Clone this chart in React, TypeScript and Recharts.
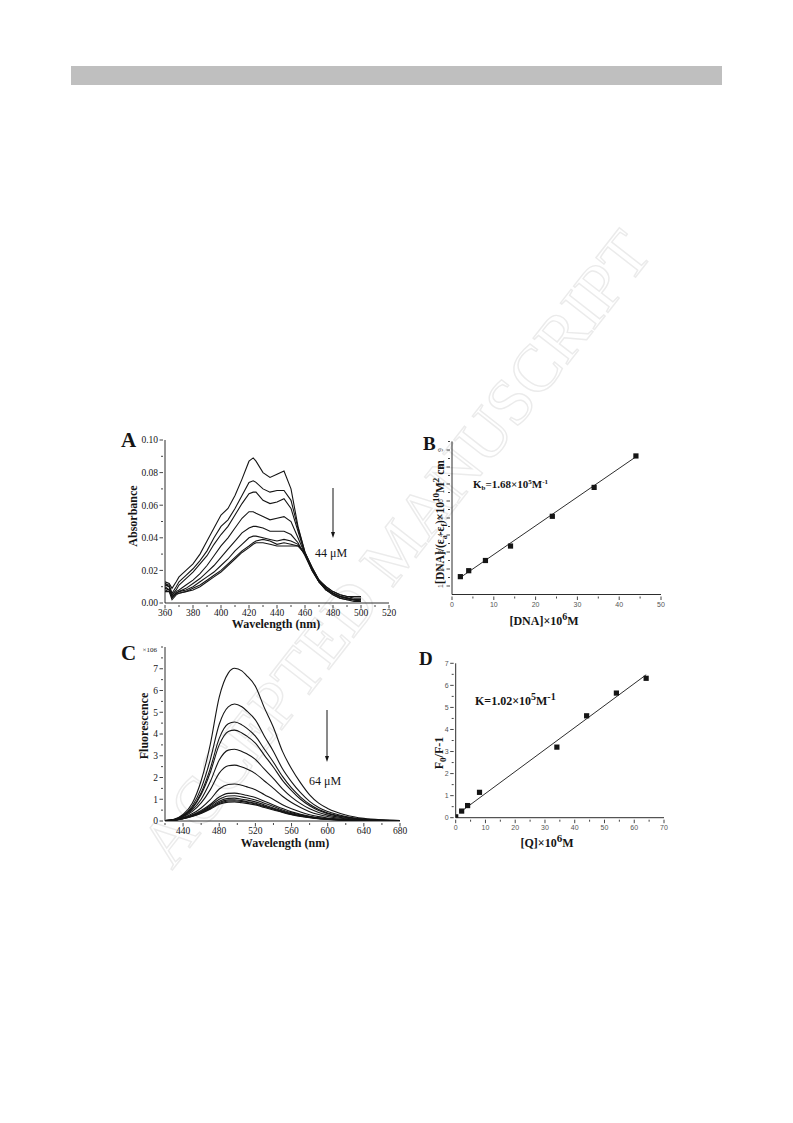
import React from 'react';
import { LineChart, Line, XAxis, YAxis, ScatterChart, Scatter } from 'recharts';

const SERIF = '"Liberation Serif", "Times New Roman", serif';
const SANS = '"Liberation Sans", Arial, sans-serif';
const INK = '#151515';

// A: absorption titration (Absorbance vs wavelength)
const absWavelength = [360, 363, 365, 368, 370, 375, 380, 385, 390, 395, 400, 405, 410, 415, 420, 423, 425, 430, 435, 440, 445, 450, 455, 460, 465, 470, 475, 480, 485, 490, 495, 500];
const absCurves = [
  [0.013, 0.012, 0.009, 0.013, 0.016, 0.02, 0.024, 0.03, 0.038, 0.046, 0.054, 0.058, 0.066, 0.076, 0.087, 0.089, 0.087, 0.08, 0.077, 0.079, 0.081, 0.07, 0.047, 0.031, 0.022, 0.014, 0.01, 0.007, 0.005, 0.004, 0.004, 0.004],
  [0.012, 0.011, 0.006, 0.01, 0.013, 0.017, 0.021, 0.026, 0.032, 0.04, 0.047, 0.051, 0.058, 0.066, 0.074, 0.075, 0.074, 0.07, 0.068, 0.069, 0.069, 0.063, 0.046, 0.031, 0.021, 0.014, 0.009, 0.006, 0.004, 0.003, 0.002, 0.002],
  [0.011, 0.01, 0.005, 0.008, 0.011, 0.015, 0.019, 0.024, 0.029, 0.036, 0.042, 0.047, 0.054, 0.061, 0.067, 0.068, 0.068, 0.063, 0.061, 0.062, 0.064, 0.058, 0.044, 0.03, 0.021, 0.013, 0.009, 0.006, 0.004, 0.003, 0.002, 0.002],
  [0.009, 0.008, 0.005, 0.007, 0.008, 0.011, 0.014, 0.018, 0.023, 0.029, 0.035, 0.04, 0.046, 0.052, 0.056, 0.056, 0.055, 0.053, 0.051, 0.052, 0.053, 0.05, 0.04, 0.03, 0.02, 0.013, 0.008, 0.006, 0.004, 0.003, 0.002, 0.002],
  [0.01, 0.008, 0.004, 0.006, 0.007, 0.009, 0.012, 0.015, 0.019, 0.023, 0.028, 0.033, 0.038, 0.043, 0.046, 0.047, 0.047, 0.046, 0.044, 0.044, 0.044, 0.042, 0.037, 0.029, 0.02, 0.013, 0.008, 0.005, 0.003, 0.002, 0.002, 0.001],
  [0.008, 0.007, 0.004, 0.006, 0.007, 0.008, 0.01, 0.013, 0.016, 0.019, 0.023, 0.027, 0.032, 0.036, 0.04, 0.041, 0.041, 0.04, 0.039, 0.038, 0.039, 0.038, 0.036, 0.03, 0.021, 0.013, 0.008, 0.005, 0.003, 0.002, 0.001, 0.001],
  [0.012, 0.01, 0.003, 0.006, 0.006, 0.007, 0.009, 0.011, 0.014, 0.017, 0.02, 0.024, 0.028, 0.032, 0.035, 0.037, 0.038, 0.039, 0.038, 0.036, 0.037, 0.036, 0.035, 0.03, 0.021, 0.014, 0.009, 0.006, 0.004, 0.003, 0.002, 0.001],
  [0.007, 0.007, 0.002, 0.005, 0.006, 0.007, 0.008, 0.01, 0.013, 0.016, 0.019, 0.023, 0.027, 0.031, 0.034, 0.036, 0.037, 0.037, 0.036, 0.035, 0.035, 0.035, 0.035, 0.031, 0.022, 0.014, 0.01, 0.007, 0.005, 0.004, 0.003, 0.003],
];
const absXTicks = [360, 370, 380, 390, 400, 410, 420, 430, 440, 450, 460, 470, 480, 490, 500, 510, 520];
const absXLabels = [360, 380, 400, 420, 440, 460, 480, 500, 520];
const absYTicks = [0, 0.01, 0.02, 0.03, 0.04, 0.05, 0.06, 0.07, 0.08, 0.09, 0.1];
const absYLabels = [0, 0.02, 0.04, 0.06, 0.08, 0.1];

// C: fluorescence quenching (x10^6 counts)
const fluWavelength = [420, 430, 440, 450, 460, 470, 480, 490, 497, 505, 510, 520, 530, 540, 550, 560, 570, 580, 590, 600, 620, 640, 660, 680];
const fluCurves = [
  [0.02, 0.08, 0.3, 0.8, 1.85, 3.5, 5.7, 6.8, 7.02, 6.9, 6.7, 6.2, 5.2, 4.3, 3.2, 2.4, 1.75, 1.2, 0.82, 0.58, 0.28, 0.12, 0.05, 0.02],
  [0.02, 0.07, 0.26, 0.68, 1.5, 2.8, 4.45, 5.25, 5.38, 5.25, 5.08, 4.65, 3.9, 3.2, 2.4, 1.8, 1.3, 0.9, 0.62, 0.44, 0.21, 0.09, 0.04, 0.02],
  [0.02, 0.06, 0.24, 0.6, 1.3, 2.4, 3.8, 4.47, 4.55, 4.42, 4.28, 3.9, 3.3, 2.7, 2.05, 1.52, 1.1, 0.77, 0.53, 0.37, 0.18, 0.08, 0.03, 0.01],
  [0.02, 0.06, 0.23, 0.57, 1.22, 2.22, 3.5, 4.12, 4.18, 4.05, 3.92, 3.58, 3.02, 2.47, 1.87, 1.4, 1.0, 0.7, 0.48, 0.34, 0.16, 0.07, 0.03, 0.01],
  [0.02, 0.05, 0.21, 0.5, 1.0, 1.8, 2.8, 3.26, 3.3, 3.2, 3.1, 2.83, 2.38, 1.95, 1.48, 1.1, 0.8, 0.56, 0.39, 0.27, 0.13, 0.06, 0.02, 0.01],
  [0.01, 0.05, 0.19, 0.43, 0.83, 1.43, 2.2, 2.54, 2.57, 2.48, 2.4, 2.18, 1.84, 1.5, 1.14, 0.85, 0.62, 0.43, 0.3, 0.21, 0.1, 0.05, 0.02, 0.01],
  [0.01, 0.04, 0.16, 0.33, 0.6, 0.98, 1.47, 1.68, 1.7, 1.64, 1.58, 1.44, 1.21, 0.99, 0.75, 0.56, 0.41, 0.29, 0.2, 0.14, 0.07, 0.03, 0.01, 0.01],
  [0.01, 0.04, 0.14, 0.28, 0.48, 0.76, 1.1, 1.27, 1.28, 1.23, 1.18, 1.08, 0.91, 0.74, 0.57, 0.42, 0.31, 0.22, 0.15, 0.11, 0.05, 0.02, 0.01, 0.01],
  [0.01, 0.03, 0.13, 0.26, 0.44, 0.7, 1.0, 1.15, 1.16, 1.11, 1.07, 0.97, 0.82, 0.67, 0.51, 0.38, 0.28, 0.2, 0.14, 0.1, 0.05, 0.02, 0.01, 0.01],
  [0.01, 0.03, 0.12, 0.24, 0.41, 0.64, 0.91, 1.04, 1.05, 1.0, 0.97, 0.88, 0.74, 0.6, 0.46, 0.34, 0.25, 0.18, 0.12, 0.09, 0.04, 0.02, 0.01, 0.0],
  [0.01, 0.03, 0.12, 0.23, 0.39, 0.6, 0.85, 0.97, 0.98, 0.94, 0.9, 0.82, 0.69, 0.56, 0.43, 0.32, 0.24, 0.17, 0.12, 0.08, 0.04, 0.02, 0.01, 0.0],
  [0.01, 0.03, 0.11, 0.22, 0.37, 0.57, 0.81, 0.92, 0.93, 0.89, 0.86, 0.78, 0.66, 0.54, 0.41, 0.3, 0.22, 0.16, 0.11, 0.08, 0.04, 0.02, 0.01, 0.0],
  [0.01, 0.03, 0.11, 0.21, 0.35, 0.54, 0.77, 0.87, 0.88, 0.84, 0.81, 0.74, 0.62, 0.51, 0.39, 0.29, 0.21, 0.15, 0.1, 0.07, 0.03, 0.01, 0.01, 0.0],
];
const fluXTicks = [420, 440, 460, 480, 500, 520, 540, 560, 580, 600, 620, 640, 660, 680];
const fluXLabels = [440, 480, 520, 560, 600, 640, 680];
const fluYTicks = [0, 0.5, 1, 1.5, 2, 2.5, 3, 3.5, 4, 4.5, 5, 5.5, 6, 6.5, 7, 7.5, 8];
const fluYLabels = [0, 1, 2, 3, 4, 5, 6, 7];

// B: binding plot
const dnaConc = [2, 4, 8, 14, 24, 34, 44];
const dnaRatio = [1.55, 1.9, 2.5, 3.35, 5.1, 6.8, 8.65];
const dnaFitX = [2, 44];
const dnaFitY = [1.5, 8.6];
const dnaXTicks = [0, 5, 10, 15, 20, 25, 30, 35, 40, 45, 50];
const dnaXLabels = [0, 10, 20, 30, 40, 50];
const dnaYTicks = [1, 1.5, 2, 2.5, 3, 3.5, 4, 4.5, 5, 5.5, 6, 6.5, 7, 7.5, 8, 8.5, 9, 9.5];
const dnaYLabels = [1, 2, 3, 4, 5, 6, 7, 8, 9];

// D: Stern-Volmer plot
const qConc = [0, 2, 4, 8, 34, 44, 54, 64];
const qRatio = [0.04, 0.3, 0.55, 1.15, 3.2, 4.62, 5.65, 6.32];
const qFitX = [1.5, 64];
const qFitY = [0.25, 6.48];
const qXTicks = [0, 5, 10, 15, 20, 25, 30, 35, 40, 45, 50, 55, 60, 65, 70];
const qXLabels = [0, 10, 20, 30, 40, 50, 60, 70];
const qYTicks = [0, 0.5, 1, 1.5, 2, 2.5, 3, 3.5, 4, 4.5, 5, 5.5, 6, 6.5, 7];
const qYLabels = [0, 1, 2, 3, 4, 5, 6, 7];

const absRows = absWavelength.map((wl, i) => {
  const row: any = { wl };
  absCurves.forEach((c, k) => (row['s' + k] = c[i]));
  return row;
});
const fluRows = fluWavelength.map((wl, i) => {
  const row: any = { wl };
  fluCurves.forEach((c, k) => (row['s' + k] = c[i]));
  return row;
});
const toPts = (xs: number[], ys: number[]) => xs.map((x, i) => ({ x, y: ys[i] }));

type TickOpts = {
  labels: number[];
  fmt?: (v: number) => string;
  font: string;
  size: number;
  fill: string;
  gap: number;
  rotate?: boolean;
};

const xTick = (o: TickOpts) => (p: any) => {
  const v = p.payload.value;
  const big = o.labels.includes(v);
  return (
    <g>
      <line x1={p.x} x2={p.x} y1={p.y} y2={p.y + (big ? 3.5 : 2)} stroke={INK} strokeWidth={0.8} />
      {big && (
        <text x={p.x} y={p.y + o.gap} textAnchor="middle" fontFamily={o.font} fontSize={o.size} fill={o.fill}>
          {o.fmt ? o.fmt(v) : v}
        </text>
      )}
    </g>
  );
};

const yTick = (o: TickOpts) => (p: any) => {
  const v = p.payload.value;
  const big = o.labels.includes(v);
  const tx = p.x - o.gap;
  return (
    <g>
      <line x1={p.x - (big ? 3.5 : 2)} x2={p.x} y1={p.y} y2={p.y} stroke={INK} strokeWidth={0.8} />
      {big &&
        (o.rotate ? (
          <text x={tx} y={p.y} transform={`rotate(-90 ${tx} ${p.y})`} textAnchor="middle" fontFamily={o.font} fontSize={o.size} fill={o.fill}>
            {o.fmt ? o.fmt(v) : v}
          </text>
        ) : (
          <text x={tx} y={p.y + o.size * 0.35} textAnchor="end" fontFamily={o.font} fontSize={o.size} fill={o.fill}>
            {o.fmt ? o.fmt(v) : v}
          </text>
        ))}
    </g>
  );
};

const square = (p: any) => <rect x={p.cx - 2.6} y={p.cy - 2.6} width={5.2} height={5.2} fill={INK} />;
const noDot = () => <g />;

const place = (left: number, top: number): React.CSSProperties => ({ position: 'absolute', left, top });

const Arrow = ({ x, y1, y2 }: { x: number; y1: number; y2: number }) => (
  <g>
    <line x1={x} x2={x} y1={y1} y2={y2 - 5} stroke={INK} strokeWidth={1} />
    <polygon points={`${x - 2},${y2 - 6} ${x + 2},${y2 - 6} ${x},${y2}`} fill={INK} />
  </g>
);

export default function App() {
  const axisLine = { stroke: INK, strokeWidth: 0.9 };
  return (
    <div style={{ position: 'absolute', left: 0, top: 0, width: 793, height: 1123, background: '#fff', overflow: 'hidden' }}>
      {/* watermark */}
      <svg width={793} height={1123} style={{ position: 'absolute', left: 0, top: 0 }}>
        <text
          x={413}
          y={562}
          transform="rotate(-52 413 562)"
          textAnchor="middle"
          fontFamily={SERIF}
          fontSize={66}
          fill="none"
          stroke="#ebebeb"
          strokeWidth={1.4}
        >
          ACCEPTED MANUSCRIPT
        </text>
      </svg>

      <div style={{ position: 'absolute', left: 71, top: 66, width: 651, height: 19, background: '#bfbfbf' }} />

      {/* A */}
      <div style={place(100, 420)}>
        <LineChart width={300} height={210} data={absRows} margin={{ top: 20, right: 11, bottom: 7, left: 0 }}>
          <XAxis
            type="number"
            dataKey="wl"
            domain={[360, 520]}
            ticks={absXTicks}
            interval={0}
            allowDataOverflow
            height={20}
            tickSize={0}
            tickLine={false}
            axisLine={axisLine}
            tick={xTick({ labels: absXLabels, font: SERIF, size: 9.5, fill: INK, gap: 10.5 })}
          />
          <YAxis
            type="number"
            domain={[0, 0.1]}
            ticks={absYTicks}
            interval={0}
            allowDataOverflow
            width={65}
            tickSize={0}
            tickLine={false}
            axisLine={axisLine}
            tick={yTick({ labels: absYLabels, font: SERIF, size: 9.5, fill: INK, gap: 5, fmt: (v) => v.toFixed(2) })}
          />
          {absCurves.map((_, k) => (
            <Line key={k} dataKey={'s' + k} type="linear" stroke={INK} strokeWidth={1.1} dot={false} isAnimationActive={false} />
          ))}
        </LineChart>
      </div>

      {/* B */}
      <div style={place(400, 425)}>
        <ScatterChart width={280} height={200} margin={{ top: 16.5, right: 19, bottom: 10.5, left: 0 }}>
          <XAxis
            type="number"
            dataKey="x"
            domain={[0, 50]}
            ticks={dnaXTicks}
            interval={0}
            allowDataOverflow
            height={20}
            tickSize={0}
            tickLine={false}
            axisLine={axisLine}
            tick={xTick({ labels: dnaXLabels, font: SANS, size: 7, fill: '#555', gap: 10.5 })}
          />
          <YAxis
            type="number"
            dataKey="y"
            domain={[0.5, 9.5]}
            ticks={dnaYTicks}
            interval={0}
            allowDataOverflow
            width={52}
            tickSize={0}
            tickLine={false}
            axisLine={axisLine}
            tick={yTick({ labels: dnaYLabels, font: SANS, size: 7, fill: '#555', gap: 7, rotate: true })}
          />
          <Scatter data={toPts(dnaFitX, dnaFitY)} line={{ stroke: INK, strokeWidth: 0.9 }} shape={noDot} isAnimationActive={false} />
          <Scatter data={toPts(dnaConc, dnaRatio)} shape={square} isAnimationActive={false} />
        </ScatterChart>
      </div>

      {/* C */}
      <div style={place(100, 635)}>
        <LineChart width={310} height={210} data={fluRows} margin={{ top: 12, right: 10, bottom: 4, left: 0 }}>
          <XAxis
            type="number"
            dataKey="wl"
            domain={[420, 680]}
            ticks={fluXTicks}
            interval={0}
            allowDataOverflow
            height={20}
            tickSize={0}
            tickLine={false}
            axisLine={axisLine}
            tick={xTick({ labels: fluXLabels, font: SERIF, size: 9.5, fill: INK, gap: 10.5 })}
          />
          <YAxis
            type="number"
            domain={[0, 8]}
            ticks={fluYTicks}
            interval={0}
            allowDataOverflow
            width={65}
            tickSize={0}
            tickLine={false}
            axisLine={axisLine}
            tick={yTick({ labels: fluYLabels, font: SERIF, size: 9.5, fill: INK, gap: 5 })}
          />
          {fluCurves.map((_, k) => (
            <Line key={k} dataKey={'s' + k} type="monotone" stroke={INK} strokeWidth={1.1} dot={false} isAnimationActive={false} />
          ))}
        </LineChart>
      </div>

      {/* D */}
      <div style={place(400, 645)}>
        <ScatterChart width={280} height={200} margin={{ top: 18.3, right: 16, bottom: 7.3, left: 0 }}>
          <XAxis
            type="number"
            dataKey="x"
            domain={[0, 70]}
            ticks={qXTicks}
            interval={0}
            allowDataOverflow
            height={20}
            tickSize={0}
            tickLine={false}
            axisLine={axisLine}
            tick={xTick({ labels: qXLabels, font: SANS, size: 7, fill: '#555', gap: 10 })}
          />
          <YAxis
            type="number"
            dataKey="y"
            domain={[0, 7]}
            ticks={qYTicks}
            interval={0}
            allowDataOverflow
            width={55.7}
            tickSize={0}
            tickLine={false}
            axisLine={axisLine}
            tick={yTick({ labels: qYLabels, font: SANS, size: 7, fill: '#555', gap: 5 })}
          />
          <Scatter data={toPts(qFitX, qFitY)} line={{ stroke: INK, strokeWidth: 0.9 }} shape={noDot} isAnimationActive={false} />
          <Scatter data={toPts(qConc, qRatio)} shape={square} isAnimationActive={false} />
        </ScatterChart>
      </div>

      {/* labels and annotations */}
      <svg width={793} height={1123} style={{ position: 'absolute', left: 0, top: 0, pointerEvents: 'none' }}>
        <g fontFamily={SERIF} fill={INK}>
          {/* A */}
          <text x={121} y={447} fontSize={21} fontWeight="bold">A</text>
          <text x={137} y={516} transform="rotate(-90 137 516)" textAnchor="middle" fontSize={12} fontWeight="bold">Absorbance</text>
          <text x={276} y={628} textAnchor="middle" fontSize={12} fontWeight="bold">Wavelength (nm)</text>
          <Arrow x={333} y1={488} y2={538} />
          <text x={315} y={557} fontSize={12}>44 μM</text>

          {/* B */}
          <text x={423} y={450} fontSize={19} fontWeight="bold">B</text>
          <text x={444} y={522} transform="rotate(-90 444 522)" textAnchor="middle" fontSize={11.5} fontWeight="bold">
            [DNA]/(ε<tspan fontSize={8} dy={3}>a</tspan>
            <tspan dy={-3}>-ε</tspan>
            <tspan fontSize={8} dy={3}>f</tspan>
            <tspan dy={-3}>)×10</tspan>
            <tspan fontSize={9} dy={-5}>10</tspan>
            <tspan dy={5}>M</tspan>
            <tspan fontSize={9} dy={-5}>2</tspan>
            <tspan dy={5}> cm</tspan>
          </text>
          <text x={544} y={625} textAnchor="middle" fontSize={12} fontWeight="bold">
            [DNA]×10<tspan fontSize={10} dy={-5}>6</tspan>
            <tspan dy={5}>M</tspan>
          </text>
          <text x={473} y={488} fontSize={11} fontWeight="bold">
            K<tspan fontSize={7} dy={2}>b</tspan>
            <tspan dy={-2}>=1.68×10</tspan>
            <tspan fontSize={7} dy={-4}>5</tspan>
            <tspan dy={4}>M</tspan>
            <tspan fontSize={7} dy={-4}>-1</tspan>
          </text>

          {/* C */}
          <text x={121} y={660} fontSize={21} fontWeight="bold">C</text>
          <text x={157} y={652} textAnchor="end" fontSize={7}>×106</text>
          <text x={148} y={726} transform="rotate(-90 148 726)" textAnchor="middle" fontSize={12} fontWeight="bold">Fluorescence</text>
          <text x={285} y={847} textAnchor="middle" fontSize={12} fontWeight="bold">Wavelength (nm)</text>
          <Arrow x={327} y1={710} y2={762} />
          <text x={309} y={785} fontSize={12}>64 μM</text>

          {/* D */}
          <text x={419} y={665} fontSize={19} fontWeight="bold">D</text>
          <text x={443} y={753} transform="rotate(-90 443 753)" textAnchor="middle" fontSize={12} fontWeight="bold">
            F<tspan fontSize={9} dy={3}>0</tspan>
            <tspan dy={-3}>/F-1</tspan>
          </text>
          <text x={547} y={847} textAnchor="middle" fontSize={12} fontWeight="bold">
            [Q]×10<tspan fontSize={11} dy={-5}>6</tspan>
            <tspan dy={5}>M</tspan>
          </text>
          <text x={475} y={705} fontSize={12} fontWeight="bold">
            K=1.02×10<tspan fontSize={10} dy={-5}>5</tspan>
            <tspan dy={5}>M</tspan>
            <tspan fontSize={10} dy={-5}>-1</tspan>
          </text>
        </g>
      </svg>
    </div>
  );
}
